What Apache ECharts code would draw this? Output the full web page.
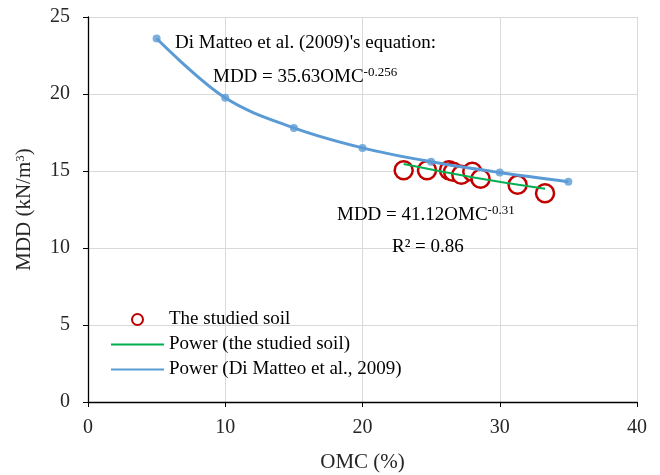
<!DOCTYPE html>
<html>
<head>
<meta charset="utf-8">
<script src="https://cdn.jsdelivr.net/npm/echarts@6/dist/echarts.min.js"></script>
<style>html,body{margin:0;padding:0;background:#fff}#c{width:660px;height:475px}</style>
</head>
<body>
<div id="c"></div>
<script>
// Di Matteo et al. (2009) equation points
const diX = [5, 10, 15, 20, 25, 30, 35];
const diY = [23.6, 19.75, 17.8, 16.5, 15.6, 14.9, 14.3];
// studied soil
const soilX = [23.0, 24.7, 26.3, 26.6, 27.2, 28.0, 28.6, 31.3, 33.3];
const soilY = [15.05, 15.05, 15.05, 14.95, 14.75, 14.95, 14.5, 14.1, 13.55];
// power trend of the studied soil
const trendX = [23.0, 28.0, 33.3];
const trendY = [15.45, 14.6, 13.85];
const xTicks = [0, 10, 20, 30, 40];
const yTicks = [0, 5, 10, 15, 20, 25];

const FONT = '"Liberation Serif", "Times New Roman", serif';
const zip = (a, b) => a.map((v, i) => [v, b[i]]);

const chart = echarts.init(document.getElementById('c'), null, {renderer: 'canvas'});
chart.setOption({
  animation: false,
  backgroundColor: '#fff',
  grid: {left: 88, right: 23, top: 17, bottom: 73, containLabel: false, outerBoundsMode: 'none'},
  xAxis: {
    type: 'value', min: xTicks[0], max: xTicks[xTicks.length - 1], interval: 10,
    name: 'OMC (%)', nameLocation: 'middle', nameGap: 50,
    nameTextStyle: {fontFamily: FONT, fontSize: 21, color: '#262626'},
    axisLine: {show: true, onZero: false, lineStyle: {color: '#000', width: 1.3}},
    axisTick: {show: true, length: 5, lineStyle: {color: '#000'}},
    axisLabel: {fontFamily: FONT, fontSize: 20, color: '#262626', margin: 16},
    splitLine: {show: true, lineStyle: {color: '#d9d9d9', width: 1}}
  },
  yAxis: {
    type: 'value', min: yTicks[0], max: yTicks[yTicks.length - 1], interval: 5,
    name: 'MDD (kN/m{s|3})', nameLocation: 'middle', nameGap: 53,
    nameTextStyle: {fontFamily: FONT, fontSize: 21, color: '#262626',
      rich: {s: {fontFamily: FONT, fontSize: 13, color: '#262626', verticalAlign: 'top'}}},
    axisLine: {show: true, onZero: false, lineStyle: {color: '#000', width: 1.3}},
    axisTick: {show: true, length: 5, lineStyle: {color: '#000'}},
    axisLabel: {fontFamily: FONT, fontSize: 20, color: '#262626', margin: 18},
    splitLine: {show: true, lineStyle: {color: '#d9d9d9', width: 1}}
  },
  legend: {
    orient: 'vertical', left: 105, top: 305, itemGap: 6,
    itemWidth: 53, itemHeight: 11,
    textStyle: {fontFamily: FONT, fontSize: 19, color: '#000'},
    data: [
      {name: 'The studied soil'},
      {name: 'Power (the studied soil)', itemStyle: {opacity: 0}},
      {name: 'Power (Di Matteo et al., 2009)', itemStyle: {opacity: 0}}
    ]
  },
  series: [
    {
      name: 'The studied soil', type: 'scatter', z: 2,
      data: zip(soilX, soilY),
      symbol: 'circle', symbolSize: 18,
      itemStyle: {color: '#fff', borderColor: '#C00000', borderWidth: 2.5, opacity: 1}
    },
    {
      name: 'Power (the studied soil)', type: 'line', z: 3,
      data: zip(trendX, trendY), smooth: true,
      symbol: 'none',
      lineStyle: {color: '#00B050', width: 2},
      itemStyle: {color: '#00B050'}
    },
    {
      name: 'Power (Di Matteo et al., 2009)', type: 'line', z: 4,
      data: zip(diX, diY), smooth: 0.35,
      symbol: 'none',
      lineStyle: {color: '#5B9BD5', width: 3},
      itemStyle: {color: '#5B9BD5'}
    },
    {
      name: 'Di Matteo points', type: 'scatter', z: 5,
      data: zip(diX, diY),
      symbol: 'circle', symbolSize: 8,
      itemStyle: {color: '#5B9BD5'}
    }
  ],
  graphic: [
    {type: 'text', x: 175, y: 43, z: 10, style: {text: "Di Matteo et al. (2009)'s equation:", font: '19px ' + FONT, fill: '#000', verticalAlign: 'middle'}},
    {type: 'text', x: 213, y: 77, z: 10, style: {
      text: '{a|MDD = 35.63OMC}{s|-0.256}', verticalAlign: 'middle',
      rich: {a: {fontFamily: FONT, fontSize: 19, lineHeight: 22, color: '#000'},
             s: {fontFamily: FONT, fontSize: 13, verticalAlign: 'top', color: '#000'}}
    }},
    {type: 'text', x: 337, y: 215, z: 10, style: {
      text: '{a|MDD = 41.12OMC}{s|-0.31}', verticalAlign: 'middle',
      rich: {a: {fontFamily: FONT, fontSize: 19, lineHeight: 22, color: '#000'},
             s: {fontFamily: FONT, fontSize: 13, verticalAlign: 'top', color: '#000'}}
    }},
    {type: 'text', x: 392, y: 247, z: 10, style: {text: 'R² = 0.86', font: '19px ' + FONT, fill: '#000', verticalAlign: 'middle'}}
  ]
});
</script>
</body>
</html>
